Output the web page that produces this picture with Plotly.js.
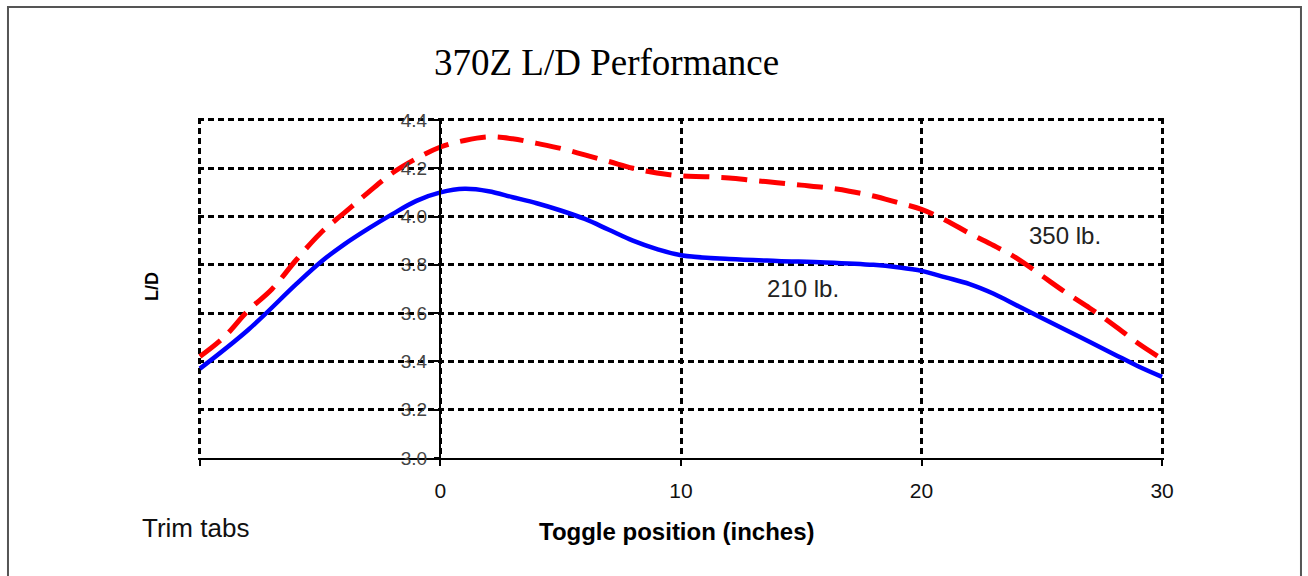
<!DOCTYPE html>
<html>
<head>
<meta charset="utf-8">
<script src="https://cdn.plot.ly/plotly-3.0.1.min.js"></script>
<style>html,body{margin:0;padding:0;background:#fff;}#chart{width:1308px;height:576px;}</style>
</head>
<body>
<div id="chart"></div>
<script>
// Toggle position (inches)
var xLight = [-10,-8,-6,-5,-4,-3,-2,-1,0,1,2,3,4,5,6,7,8,9,10,12,14,16,18,19,20,21,22,23,24,25,26,27,28,29,30];
// 210 lb. L/D
var yLight = [3.37,3.53,3.72,3.81,3.885,3.95,4.01,4.065,4.10,4.115,4.105,4.08,4.055,4.025,3.99,3.945,3.90,3.865,3.84,3.824,3.816,3.81,3.80,3.79,3.775,3.748,3.72,3.68,3.63,3.58,3.53,3.48,3.43,3.38,3.336];

var xHeavy = [-10,-9,-8,-7,-6,-5,-4,-3,-2,-1,0,1,2,3,4,5,6,7,8,9,10,11,12,13,14,15,16,17,18,19,20,21,22,23,24,25,26,27,28,29,30];
// 350 lb. L/D
var yHeavy = [3.42,3.50,3.61,3.70,3.82,3.93,4.015,4.10,4.18,4.24,4.288,4.315,4.33,4.322,4.303,4.282,4.255,4.228,4.20,4.18,4.168,4.165,4.16,4.15,4.14,4.13,4.12,4.105,4.085,4.058,4.03,3.985,3.93,3.88,3.825,3.755,3.685,3.62,3.55,3.475,3.41];

var xTickVals = [-10,0,10,20,30];
var xTickText = ['','0','10','20','30'];
var yTickVals = [3.0,3.2,3.4,3.6,3.8,4.0,4.2,4.4];
var yTickText = ['3.0','3.2','3.4','3.6','3.8','4.0','4.2','4.4'];

var sans = 'Liberation Sans, Arial, sans-serif';

var traces = [
  {x: xLight, y: yLight, mode: 'lines', line: {color: '#0000ff', width: 4.5, shape: 'spline', smoothing: 1}, name: '210 lb.', hoverinfo: 'skip'},
  {x: xHeavy, y: yHeavy, mode: 'lines', line: {color: '#ff0000', width: 5, shape: 'spline', smoothing: 1, dash: '26px,12px'}, name: '350 lb.', hoverinfo: 'skip'}
];

var layout = {
  width: 1308, height: 576,
  margin: {l: 198, r: 144, t: 118, b: 118},
  paper_bgcolor: '#ffffff', plot_bgcolor: '#ffffff',
  showlegend: false,
  xaxis: {
    range: [-10.08, 30.08], tickmode: 'array', tickvals: xTickVals, ticktext: xTickText,
    showgrid: true, gridcolor: '#000000', gridwidth: 3, griddash: '6px,4px',
    zeroline: false, showline: true, linecolor: '#000000', linewidth: 2,
    ticks: 'outside', ticklen: 6, tickwidth: 2, tickcolor: '#000000',
    ticklabelstandoff: 7,
    tickfont: {family: sans, size: 21, color: '#111111'}
  },
  yaxis: {
    range: [3.0, 4.408], tickmode: 'array', tickvals: yTickVals, ticktext: yTickText,
    anchor: 'free', position: 0.2505,
    showgrid: true, gridcolor: '#000000', gridwidth: 3, griddash: '6px,4px',
    zeroline: false, showline: true, linecolor: '#000000', linewidth: 2,
    ticks: 'outside', ticklen: 5, tickwidth: 2, tickcolor: '#000000',
    ticklabelstandoff: 3,
    tickfont: {family: sans, size: 19, color: '#444444'}
  },
  shapes: [
    {type: 'rect', xref: 'paper', yref: 'paper', x0: -0.1967, x1: 1.1418, y0: -0.37, y1: 1.3265,
     line: {color: '#555555', width: 2}, fillcolor: 'rgba(0,0,0,0)', layer: 'below'}
  ],
  annotations: [
    {text: '370Z L/D Performance', xref: 'paper', yref: 'paper', x: 0.4224, y: 1.1647, xanchor: 'center', yanchor: 'middle', showarrow: false,
     font: {family: 'Liberation Serif, Times New Roman, serif', size: 37, color: '#000000'}},
    {text: '<b>L/D</b>', xref: 'paper', yref: 'paper', x: -0.0476, y: 0.5029, xanchor: 'center', yanchor: 'middle', showarrow: false, textangle: -90,
     font: {family: sans, size: 18, color: '#000000'}},
    {text: '<b>Toggle position (inches)</b>', xref: 'paper', yref: 'paper', x: 0.4959, y: -0.2176, xanchor: 'center', yanchor: 'middle', showarrow: false,
     font: {family: sans, size: 24, color: '#000000'}},
    {text: 'Trim tabs', xref: 'paper', yref: 'paper', x: -0.0021, y: -0.2059, xanchor: 'center', yanchor: 'middle', showarrow: false,
     font: {family: sans, size: 26, color: '#111111'}},
    {text: '350 lb.', xref: 'x', yref: 'y', x: 25.97, y: 3.92, xanchor: 'center', yanchor: 'middle', showarrow: false,
     font: {family: sans, size: 24, color: '#222222'}},
    {text: '210 lb.', xref: 'x', yref: 'y', x: 15.07, y: 3.704, xanchor: 'center', yanchor: 'middle', showarrow: false,
     font: {family: sans, size: 24, color: '#222222'}}
  ]
};

Plotly.newPlot('chart', traces, layout, {staticPlot: true, displayModeBar: false});
</script>
</body>
</html>
